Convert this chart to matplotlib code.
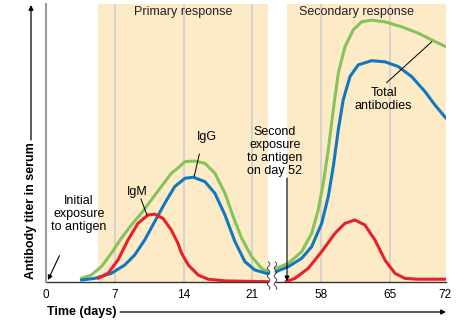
import numpy as np
import matplotlib.pyplot as plt

plt.rcParams['font.family'] = ['Liberation Sans', 'DejaVu Sans']

# x positions on a compressed axis (days 0-21, break, days 52-72)
tick_pos = [0, 7, 14, 21, 28, 35, 40.6]
tick_labels = ['0', '7', '14', '21', '58', '65', '72']

# primary response
prim_green_x = [3.59, 4.61, 5.63, 6.64, 7.66, 8.68, 9.69, 10.71, 11.73, 12.75, 13.43, 14.14,
                15.16, 16.17, 17.19, 18.21, 19.05, 19.91, 20.93, 21.94, 22.61]
prim_green_y = [1.3, 2.5, 5.5, 10.3, 15.7, 20.5, 24.7, 29.5, 34.3, 39.1, 41.0, 43.3,
                43.5, 42.7, 39.1, 31.9, 23.5, 15.7, 9.1, 4.9, 3.7]
prim_blue_x = [3.59, 4.95, 6.64, 8.01, 9.02, 10.04, 11.06, 12.08, 13.09, 14.14, 14.98,
               16.17, 17.19, 18.21, 19.23, 20.24, 21.26, 22.45, 22.61]
prim_blue_y = [0.7, 1.3, 3.1, 6.1, 9.7, 15.1, 21.7, 28.3, 34.3, 37.3, 37.7,
               36.1, 31.9, 24.1, 14.5, 7.3, 4.3, 3.1, 3.0]
prim_red_x = [5.29, 6.31, 7.32, 8.34, 9.36, 10.38, 11.06, 11.90, 12.75, 13.43, 13.80,
              14.48, 15.49, 16.51, 18.21, 22.61]
prim_red_y = [1.3, 3.1, 7.9, 15.1, 21.1, 24.1, 24.4, 22.9, 18.7, 13.9, 10.3,
              6.1, 2.5, 1.0, 0.4, 0.1]

# secondary response
sec_green_x = [23.4, 24.65, 26.01, 27.03, 27.70, 28.21, 28.72, 29.23, 29.74, 30.42, 31.26,
               32.12, 33.13, 34.49, 36.18, 37.87, 39.24, 40.7]
sec_green_y = [4.9, 6.7, 10.9, 17.5, 25.9, 35.5, 47.5, 61.9, 75.1, 84.6, 90.7,
               93.6, 94.2, 93.6, 91.8, 89.5, 87.1, 84.6]
sec_blue_x = [23.4, 24.65, 26.01, 27.03, 28.05, 28.72, 29.23, 29.74, 30.24, 30.93, 31.77,
              33.13, 34.49, 35.84, 37.20, 38.56, 39.57, 40.7]
sec_blue_y = [3.7, 5.5, 8.5, 12.7, 21.1, 30.7, 41.5, 54.7, 65.5, 73.9, 78.1,
              79.6, 79.2, 77.5, 73.9, 68.5, 63.7, 58.9]
sec_red_x = [24.4, 25.33, 26.68, 28.05, 29.40, 30.42, 31.43, 32.45, 33.47, 34.49, 35.51,
             36.52, 37.87, 40.7]
sec_red_y = [0.1, 1.3, 4.9, 10.9, 17.5, 21.1, 22.3, 20.5, 15.1, 7.9, 3.1,
             1.3, 1.0, 1.0]

green = '#86c35a'
blue = '#1178bd'
red = '#e8202a'
peach = '#fdebc8'
grid = '#cfcfcf'

fig = plt.figure(figsize=(4.67, 3.22), dpi=100)
ax = fig.add_axes([46 / 467, 40 / 322, 400 / 467, 278 / 322])
ax.set_xlim(0, 40.7)
ax.set_ylim(0, 100)

# shaded response periods and grid lines
ax.axvspan(5.3, 22.6, color=peach, lw=0, zorder=0)
ax.axvspan(24.5, 40.7, color=peach, lw=0, zorder=0)
for p in tick_pos[1:6]:
    ax.axvline(p, color=grid, lw=1.2, zorder=1)

for s in ['top', 'right', 'bottom']:
    ax.spines[s].set_visible(False)
ax.spines['left'].set_color('#999999')
ax.spines['left'].set_linewidth(1.5)

# broken x axis
ax.plot([0, 22.6], [0, 0], color='#333333', lw=1, zorder=2, clip_on=False)
ax.plot([23.45, 40.7], [0, 0], color='#333333', lw=1, zorder=2, clip_on=False)
wy = np.linspace(-2.6, 7.2, 60)
for x0 in [22.65, 23.35]:
    ax.plot(x0 + 0.13 * np.sin(wy * 2.2), wy, color='#444444', lw=0.7, zorder=4, clip_on=False)

lw = 2.2
style = dict(lw=lw, zorder=3, solid_capstyle='round', solid_joinstyle='round')
ax.plot(prim_green_x, prim_green_y, color=green, **style)
ax.plot(prim_blue_x, prim_blue_y, color=blue, **style)
ax.plot(prim_red_x, prim_red_y, color=red, **style)
ax.plot(sec_green_x, sec_green_y, color=green, **style)
ax.plot(sec_blue_x, sec_blue_y, color=blue, **style)
ax.plot(sec_red_x, sec_red_y, color=red, **style)

ax.set_xticks(tick_pos)
ax.set_xticklabels(tick_labels, fontsize=8.5)
ax.tick_params(axis='x', length=0, pad=5)
ax.set_yticks([])

fs = 9
ax.text(13.94, 97.1, 'Primary response', ha='center', va='center', fontsize=fs, color='#222222')
ax.text(31.64, 97.1, 'Secondary response', ha='center', va='center', fontsize=fs, color='#222222')
ax.text(16.35, 52.0, 'IgG', ha='center', va='center', fontsize=fs)
ax.plot([15.6, 15.09], [46.0, 38.1], color='black', lw=0.7, zorder=5)
ax.text(9.25, 32.4, 'IgM', ha='center', va='center', fontsize=fs)
ax.plot([9.66, 10.27], [29.9, 24.1], color='black', lw=0.7, zorder=5)
ax.text(34.35, 65.5, 'Total\nantibodies', ha='center', va='center', fontsize=fs, linespacing=1.1)
ax.plot([34.66, 39.24], [71.7, 86.4], color='black', lw=0.7, zorder=5)

ax.annotate('Initial\nexposure\nto antigen', xy=(0.2, 0.7), xytext=(3.36, 24.5),
            ha='center', va='center', fontsize=fs, linespacing=1.1,
            arrowprops=dict(arrowstyle='-|>', color='black', lw=0.8, mutation_scale=7,
                            shrinkA=16, shrinkB=0), zorder=5)
ax.text(23.3, 46.9, 'Second\nexposure\nto antigen\non day 52', ha='center', va='center',
        fontsize=fs, linespacing=1.1, zorder=5)
ax.annotate('', xy=(24.52, 0.3), xytext=(24.52, 37.4),
            arrowprops=dict(arrowstyle='-|>', color='black', lw=0.8, mutation_scale=7,
                            shrinkA=0, shrinkB=0), zorder=5)

# axis titles with long arrows
fig.text(31 / 467, 1 - 211 / 322, 'Antibody titer in serum', rotation=90, ha='center',
         va='center', fontsize=fs, fontweight='bold')
ax.annotate('', xy=(31 / 467, 1 - 5 / 322), xytext=(31 / 467, 1 - 140 / 322),
            xycoords='figure fraction', textcoords='figure fraction',
            arrowprops=dict(arrowstyle='-|>', color='black', lw=0.9, mutation_scale=7,
                            shrinkA=0, shrinkB=0))
fig.text(47 / 467, 1 - 312 / 322, 'Time (days)', ha='left', va='center', fontsize=fs,
         fontweight='bold')
ax.annotate('', xy=(446 / 467, 1 - 312 / 322), xytext=(120 / 467, 1 - 312 / 322),
            xycoords='figure fraction', textcoords='figure fraction',
            arrowprops=dict(arrowstyle='-|>', color='black', lw=0.9, mutation_scale=7,
                            shrinkA=0, shrinkB=0))

plt.savefig('out.png', dpi=100)
